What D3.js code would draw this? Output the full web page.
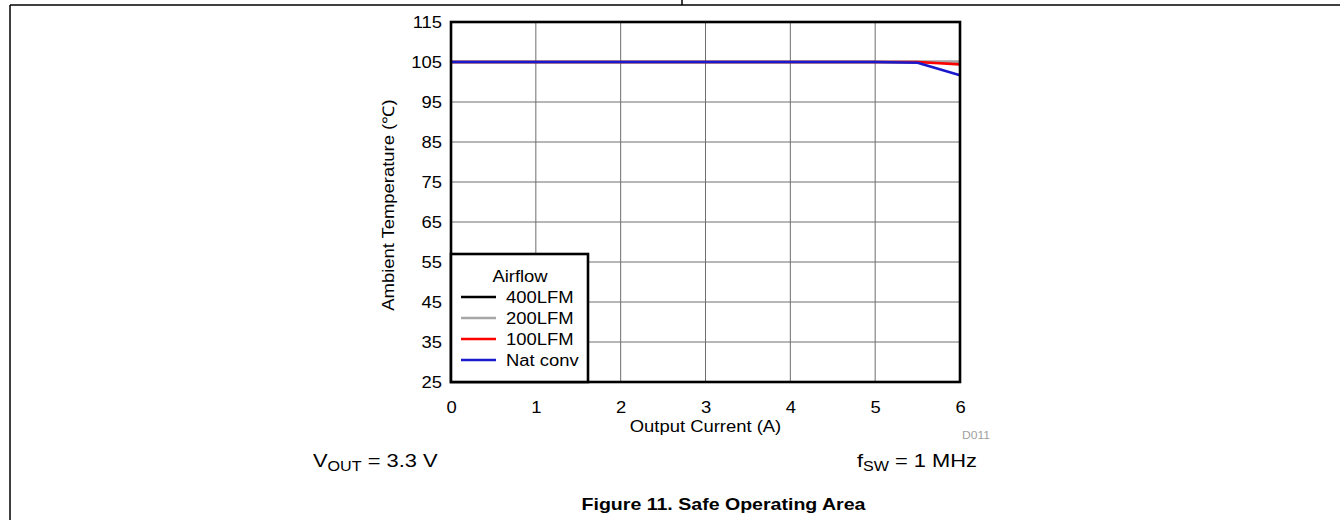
<!DOCTYPE html>
<html>
<head>
<meta charset="utf-8">
<script src="https://cdn.jsdelivr.net/npm/d3@7"></script>
<style>
  html, body { margin: 0; padding: 0; background: #fff; }
  svg { display: block; font-family: "Liberation Sans", Arial, Helvetica, sans-serif; }
</style>
</head>
<body>
<svg id="chart" width="1340" height="520"></svg>
<script>
// ---- data ----
const current = [0, 1, 2, 3, 4, 5, 5.5, 6];
const s400LFM = [105, 105, 105, 105, 105, 105, 105, 105];
const s200LFM = [105, 105, 105, 105, 105, 105, 105, 105];
const s100LFM = [105, 105, 105, 105, 105, 105, 105, 104.4];
const sNatConv = [105, 105, 105, 105, 105, 105, 104.8, 101.7];
const seriesNames = ["400LFM", "200LFM", "100LFM", "Nat conv"];
const seriesColors = ["#000000", "#a6a6a6", "#ff0000", "#1a1acc"];
const xTicks = [0, 1, 2, 3, 4, 5, 6];
const yTicks = [25, 35, 45, 55, 65, 75, 85, 95, 105, 115];

const seriesValues = [s400LFM, s200LFM, s100LFM, sNatConv];

const svg = d3.select("#chart");
const STRETCH = 1.15;
function stretch(sel, k) {
  sel.each(function () {
    const L = this.getComputedTextLength();
    this.setAttribute("textLength", L * k);
    this.setAttribute("lengthAdjust", "spacingAndGlyphs");
  });
}

// page frame
svg.append("line").attr("x1", 10).attr("x2", 1340).attr("y1", 5).attr("y2", 5)
  .attr("stroke", "#000").attr("stroke-width", 1.5);
svg.append("line").attr("x1", 10).attr("x2", 10).attr("y1", 5).attr("y2", 520)
  .attr("stroke", "#000").attr("stroke-width", 1.5);
svg.append("line").attr("x1", 682).attr("x2", 682).attr("y1", 0).attr("y2", 5)
  .attr("stroke", "#000").attr("stroke-width", 1.5);

const L = 451, R = 960, T = 22, B = 382;
const x = d3.scaleLinear().domain([0, 6]).range([L, R]);
const y = d3.scaleLinear().domain([25, 115]).range([B, T]);

// grid
const g = svg.append("g");
g.selectAll("line.vg").data(xTicks).enter().append("line")
  .attr("x1", d => x(d)).attr("x2", d => x(d)).attr("y1", T).attr("y2", B)
  .attr("stroke", "#6e6e6e").attr("stroke-width", 1);
g.selectAll("line.hg").data(yTicks).enter().append("line")
  .attr("x1", L).attr("x2", R).attr("y1", d => y(d)).attr("y2", d => y(d))
  .attr("stroke", "#6e6e6e").attr("stroke-width", 1);

// axes (labels only, via d3 axes)
const xAxis = svg.append("g").attr("transform", `translate(0,${B})`)
  .call(d3.axisBottom(x).tickValues(xTicks).tickSize(0).tickPadding(20).tickFormat(d3.format("d")));
const yAxis = svg.append("g").attr("transform", `translate(${L},0)`)
  .call(d3.axisLeft(y).tickValues(yTicks).tickSize(0).tickPadding(9).tickFormat(d3.format("d")));
[xAxis, yAxis].forEach(a => {
  a.select(".domain").remove();
  a.selectAll("text").attr("font-size", 16).attr("fill", "#000")
    .attr("font-family", "Liberation Sans, Arial, sans-serif");
});
yAxis.selectAll("text").attr("dy", "0.36em");
stretch(xAxis.selectAll("text"), STRETCH);
stretch(yAxis.selectAll("text"), STRETCH);

// lines
const line = d3.line().x((d, i) => x(current[i])).y(d => y(d));
seriesValues.forEach((vals, i) => {
  svg.append("path").datum(vals).attr("d", line)
    .attr("fill", "none").attr("stroke", seriesColors[i]).attr("stroke-width", 2.6)
    .attr("stroke-linejoin", "round");
});

// frame
svg.append("rect").attr("x", L).attr("y", T).attr("width", R - L).attr("height", B - T)
  .attr("fill", "none").attr("stroke", "#000").attr("stroke-width", 2.6);

// legend
const lg = svg.append("g");
lg.append("rect").attr("x", L).attr("y", 254).attr("width", 137).attr("height", B - 254)
  .attr("fill", "#fff").attr("stroke", "#000").attr("stroke-width", 2.6);
stretch(lg.append("text").attr("x", 520).attr("y", 282).attr("text-anchor", "middle")
  .attr("font-size", 16).text("Airflow"), STRETCH);
seriesNames.forEach((n, i) => {
  const yy = 297 + i * 21;
  lg.append("line").attr("x1", 461).attr("x2", 496).attr("y1", yy).attr("y2", yy)
    .attr("stroke", seriesColors[i]).attr("stroke-width", 2.6);
  stretch(lg.append("text").attr("x", 506).attr("y", yy + 6).attr("font-size", 16).text(n), STRETCH);
});

// axis titles
stretch(svg.append("text").attr("x", (L + R) / 2).attr("y", 432).attr("text-anchor", "middle")
  .attr("font-size", 16).text("Output Current (A)"), STRETCH);
stretch(svg.append("text").attr("transform", `translate(394,${(T + B) / 2 + 3}) rotate(-90)`)
  .attr("text-anchor", "middle").attr("font-size", 16).text("Ambient Temperature (℃)"), STRETCH);

// D011
stretch(svg.append("text").attr("x", 990).attr("y", 439).attr("text-anchor", "end")
  .attr("font-size", 11).attr("fill", "#a0a0a0").text("D011"), 1.1);

// conditions
const v = svg.append("text").attr("x", 313).attr("y", 467).attr("font-size", 19);
v.append("tspan").text("V");
v.append("tspan").attr("font-size", 14).attr("dy", 4).text("OUT");
v.append("tspan").attr("dy", -4).text(" = 3.3 V");
stretch(v, STRETCH);

const f = svg.append("text").attr("x", 977).attr("y", 467).attr("font-size", 19).attr("text-anchor", "end");
f.append("tspan").text("f");
f.append("tspan").attr("font-size", 14).attr("dy", 4).text("SW");
f.append("tspan").attr("dy", -4).text(" = 1 MHz");
stretch(f, STRETCH);

// title
stretch(svg.append("text").attr("x", 723.5).attr("y", 510).attr("text-anchor", "middle")
  .attr("font-size", 17).attr("font-weight", "bold").text("Figure 11. Safe Operating Area"), STRETCH);
</script>
</body>
</html>
